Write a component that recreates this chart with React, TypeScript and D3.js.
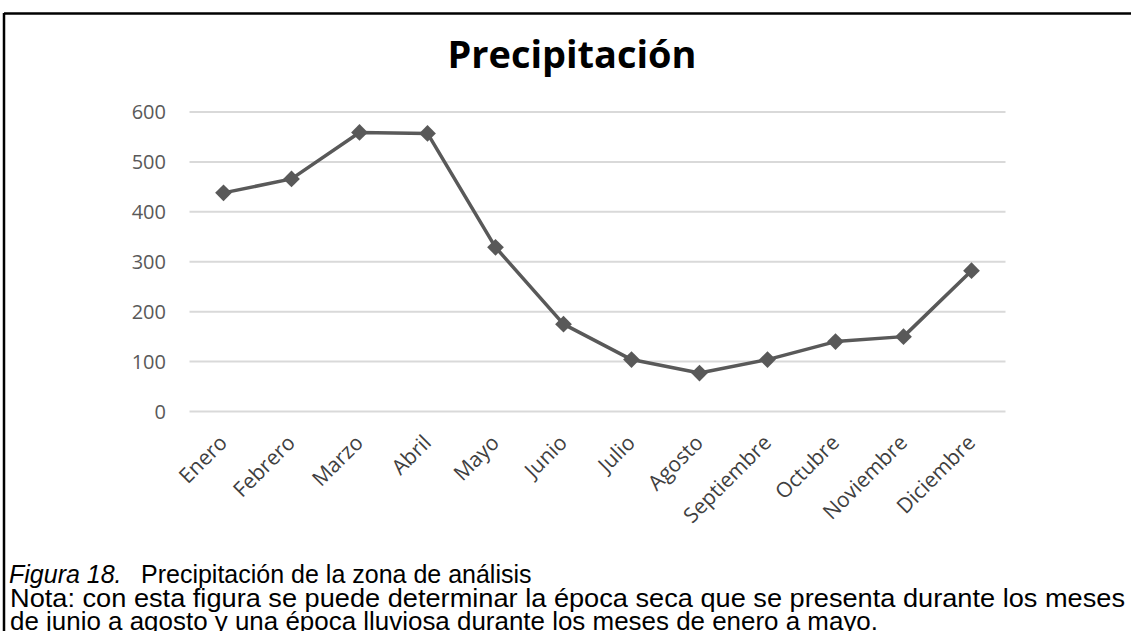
import React from "react";
import * as d3 from "d3";

const months = ["Enero", "Febrero", "Marzo", "Abril", "Mayo", "Junio", "Julio", "Agosto", "Septiembre", "Octubre", "Noviembre", "Diciembre"];
const precip = [438, 466, 559, 557, 329, 175, 104, 77, 104, 140, 150, 282];
const yTicks = [0, 100, 200, 300, 400, 500, 600];
const title = "Precipitación";
const captionFig = "Figura 18.";
const captionTitle = "Precipitación de la zona de análisis";
const captionNote1 = "Nota: con esta figura se puede determinar la época seca que se presenta durante los meses";
const captionNote2 = "de junio a agosto y una época lluviosa durante los meses de enero a mayo.";

const W = 1131;
const H = 631;

export default function App() {
  const x = d3.scaleBand<string>().domain(months).range([189.5, 1005.5]);
  const y = d3.scaleLinear().domain([0, 600]).range([411.5, 112]);
  const cx = (m: string) => (x(m) as number) + x.bandwidth() / 2;
  const line = d3
    .line<number>()
    .x((_, i) => cx(months[i]))
    .y((d) => y(d));
  const diamond = d3.symbol().type(d3.symbolSquare).size(140)() as string;
  const chartFont = "'Open Sans', 'DejaVu Sans', sans-serif";
  const capFont = "'Liberation Sans', Arial, sans-serif";

  return (
    <svg width={W} height={H} style={{ position: "fixed", left: 0, top: 0, background: "#fff" }}>
      <rect x={0} y={0} width={W} height={H} fill="#fff" />
      {/* frame */}
      <line x1={4} y1={13.5} x2={W} y2={13.5} stroke="#000" strokeWidth={2.5} />
      <line x1={4} y1={13} x2={4} y2={H} stroke="#000" strokeWidth={2.5} />
      {/* title */}
      <text x={572} y={68} textAnchor="middle" fontFamily={chartFont} fontWeight="bold" fontSize={37} fill="#000" textLength={249} lengthAdjust="spacingAndGlyphs">
        {title}
      </text>
      {/* grid + y labels */}
      {yTicks.map((t) => (
        <g key={t}>
          <line x1={189.5} x2={1005.5} y1={y(t)} y2={y(t)} stroke="#d9d9d9" strokeWidth={2} />
          <text x={166} y={y(t) + 7} textAnchor="end" fontFamily={chartFont} fontSize={20} fill="#595959">
            {t}
          </text>
        </g>
      ))}
      {/* line */}
      <path d={line(precip) as string} fill="none" stroke="#595959" strokeWidth={3.5} strokeLinejoin="round" />
      {precip.map((v, i) => (
        <path key={months[i]} d={diamond} transform={`translate(${cx(months[i])},${y(v)}) rotate(45)`} fill="#595959" />
      ))}
      {/* x labels */}
      {months.map((m) => (
        <text key={m} transform={`translate(${cx(m) + 5},${444}) rotate(-45)`} textAnchor="end" fontFamily={chartFont} fontSize={21} fill="#404040">
          {m}
        </text>
      ))}
      {/* caption */}
      <text x={9} y={583} fontFamily={capFont} fontSize={25} fill="#000">
        <tspan fontStyle="italic">{captionFig}</tspan>
        <tspan x={141}>{captionTitle}</tspan>
      </text>
      <text x={10} y={607} fontFamily={capFont} fontSize={25} fill="#000" textLength={1115} lengthAdjust="spacingAndGlyphs">
        {captionNote1}
      </text>
      <text x={10} y={630} fontFamily={capFont} fontSize={25} fill="#000" textLength={868} lengthAdjust="spacingAndGlyphs">
        {captionNote2}
      </text>
    </svg>
  );
}
